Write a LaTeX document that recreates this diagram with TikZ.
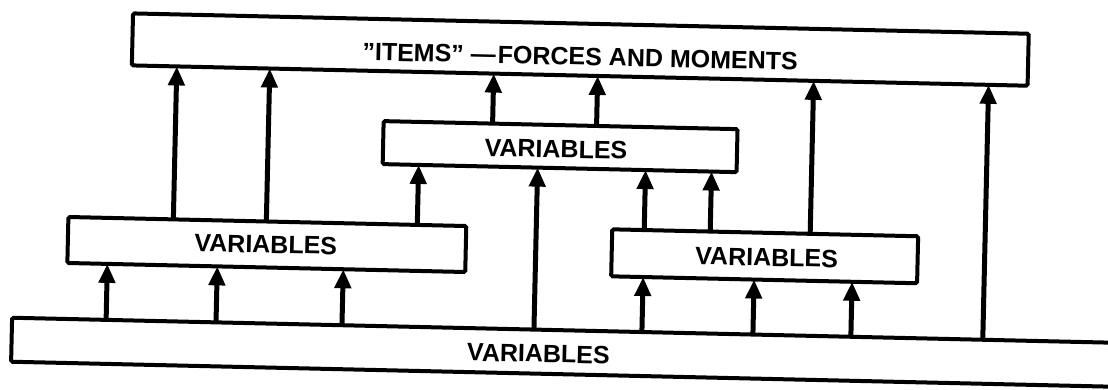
\documentclass[tikz,border=0pt]{standalone}
\usepackage{fontspec}
\setmainfont{Liberation Sans}
\usetikzlibrary{arrows.meta,calc}

% upward feed from the top edge of one box to the bottom edge of another;
% the fractions give the position along each edge, from its west end
\newcommand{\feedline}[4]{%
  \draw[feed] ($(#1.north west)!#2!(#1.north east)$) -- ($(#3.south west)!#4!(#3.south east)$);}

\begin{document}
\begin{tikzpicture}[x=1pt, y=-1pt,
  varbox/.style={draw=black, line width=4pt, rounded corners=1.5pt,
                 inner sep=0pt, outer sep=0pt},
  boxtext/.style={font=\fontsize{25}{30}\selectfont\bfseries, inner sep=0pt},
  feed/.style={line width=5pt, -{Triangle[width=16pt,length=19pt]}},
]
\fill[white] (0,0) rectangle (1108,389);
\path[use as bounding box] (0,0) rectangle (1108,389);
\clip (0,0) rectangle (1108,389);

\begin{scope}[rotate around={-1.3:(554,195)}, transform shape]
  % boxes
  \node[varbox, minimum width=896pt,  minimum height=52pt] (items)  at (577,49)    {};
  \node[varbox, minimum width=354pt,  minimum height=43pt] (midvar) at (559,146.5) {};
  \node[varbox, minimum width=398pt,  minimum height=46pt] (leftvar) at (268,251)  {};
  \node[varbox, minimum width=306pt,  minimum height=47pt] (rightvar) at (766,251.5) {};
  \node[varbox, minimum width=1125pt, minimum height=44pt] (basevar) at (577.5,352) {};

  % labels
  \node[boxtext] (items-t)    at (577,56)   {”ITEMS” —\hspace{2pt}FORCES AND MOMENTS};
  \node[boxtext] (midvar-t)   at (555,149)  {VARIABLES};
  \node[boxtext] (leftvar-t)  at (267,251)  {VARIABLES};
  \node[boxtext] (rightvar-t) at (768,252.5){VARIABLES};
  \node[boxtext] (basevar-t)  at (542,354)  {VARIABLES};

  % base level feeds
  \feedline{basevar}{0.0836}{leftvar}{0.1005}
  \feedline{basevar}{0.1813}{leftvar}{0.3769}
  \feedline{basevar}{0.2933}{leftvar}{0.6935}
  \feedline{basevar}{0.4640}{midvar}{0.4379}
  \feedline{basevar}{0.5600}{rightvar}{0.1046}
  \feedline{basevar}{0.6587}{rightvar}{0.4673}
  \feedline{basevar}{0.7458}{rightvar}{0.7876}
  \feedline{basevar}{0.8631}{items}{0.9565}

  % left group
  \feedline{leftvar}{0.2638}{items}{0.0502}
  \feedline{leftvar}{0.4975}{items}{0.1540}
  \feedline{leftvar}{0.8769}{midvar}{0.1017}

  % right group
  \feedline{rightvar}{0.1046}{midvar}{0.7429}
  \feedline{rightvar}{0.3203}{midvar}{0.9294}
  \feedline{rightvar}{0.6471}{items}{0.7612}

  % middle group
  \feedline{midvar}{0.3079}{items}{0.4040}
  \feedline{midvar}{0.6017}{items}{0.5201}
\end{scope}
\end{tikzpicture}
\end{document}
